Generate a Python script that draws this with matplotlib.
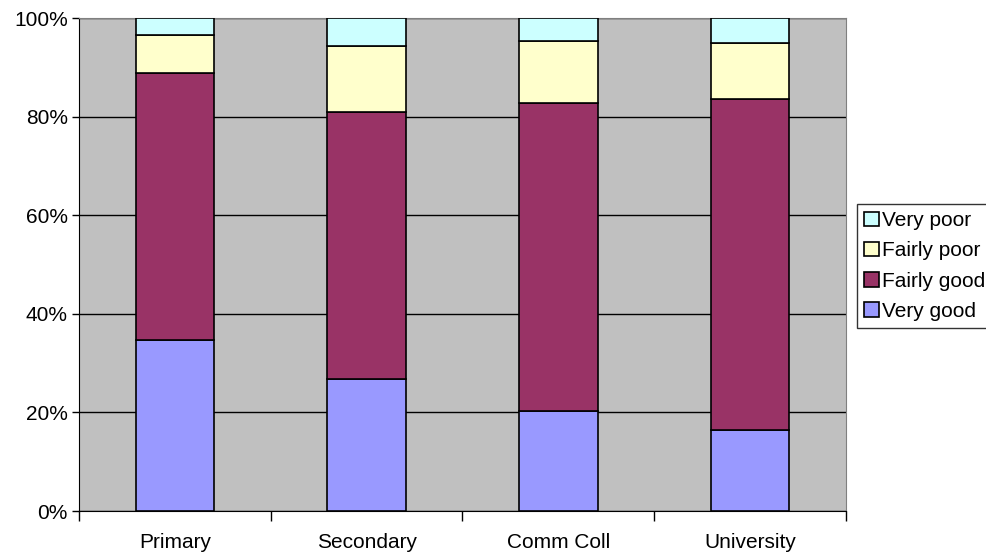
import matplotlib.pyplot as plt
import numpy as np

categories = ['Primary', 'Secondary', 'Comm Coll', 'University']
very_good = [34.7, 26.7, 20.3, 16.5]
fairly_good = [54.1, 54.3, 62.5, 67.0]
fairly_poor = [7.7, 13.4, 12.5, 11.5]
very_poor = [3.5, 5.6, 4.7, 5.0]

series = [('Very good', very_good, '#9999FF'),
          ('Fairly good', fairly_good, '#993366'),
          ('Fairly poor', fairly_poor, '#FFFFCC'),
          ('Very poor', very_poor, '#CCFFFF')]

plt.rcParams['font.family'] = ['Liberation Sans', 'DejaVu Sans']

fig = plt.figure(figsize=(9.87, 5.54), dpi=100)
ax = fig.add_axes([0.080, 0.0776, 0.777, 0.8899])
ax.set_facecolor('#C0C0C0')

x = np.arange(len(categories))
bottom = np.zeros(len(categories))
handles = []
for name, vals, col in series:
    b = ax.bar(x, vals, 0.41, bottom=bottom, color=col, edgecolor='black',
               linewidth=1.2, label=name, zorder=3)
    handles.append(b)
    bottom += np.array(vals)

ax.set_ylim(0, 100)
ax.set_xlim(-0.5, 3.5)
ax.set_yticks(np.arange(0, 101, 20))
ax.set_yticklabels([f'{v}%' for v in range(0, 101, 20)], fontsize=15)
ax.yaxis.grid(True, color='black', linewidth=1, zorder=1)
ax.set_axisbelow(True)

ax.set_xticks(x)
ax.set_xticklabels(categories, fontsize=15)
ax.tick_params(axis='x', length=0, pad=16)
ax.set_xticks(np.arange(-0.5, 3.6, 1), minor=True)
ax.tick_params(axis='x', which='minor', length=7, width=1, color='black')
ax.tick_params(axis='y', length=5, width=1, color='black', pad=3)

for s in ['top', 'right']:
    ax.spines[s].set_color('#808080')
for s in ['left', 'bottom']:
    ax.spines[s].set_color('black')

leg = fig.legend(handles[::-1], [s[0] for s in series][::-1],
                 loc='upper left', bbox_to_anchor=(0.868, 0.632),
                 fontsize=15, frameon=True, fancybox=False,
                 handlelength=0.7, handleheight=0.7, handletextpad=0.15,
                 borderpad=0.35, labelspacing=0.54, borderaxespad=0)
leg.get_frame().set_edgecolor('black')
leg.get_frame().set_linewidth(1)

fig.savefig('out.png', dpi=100)
